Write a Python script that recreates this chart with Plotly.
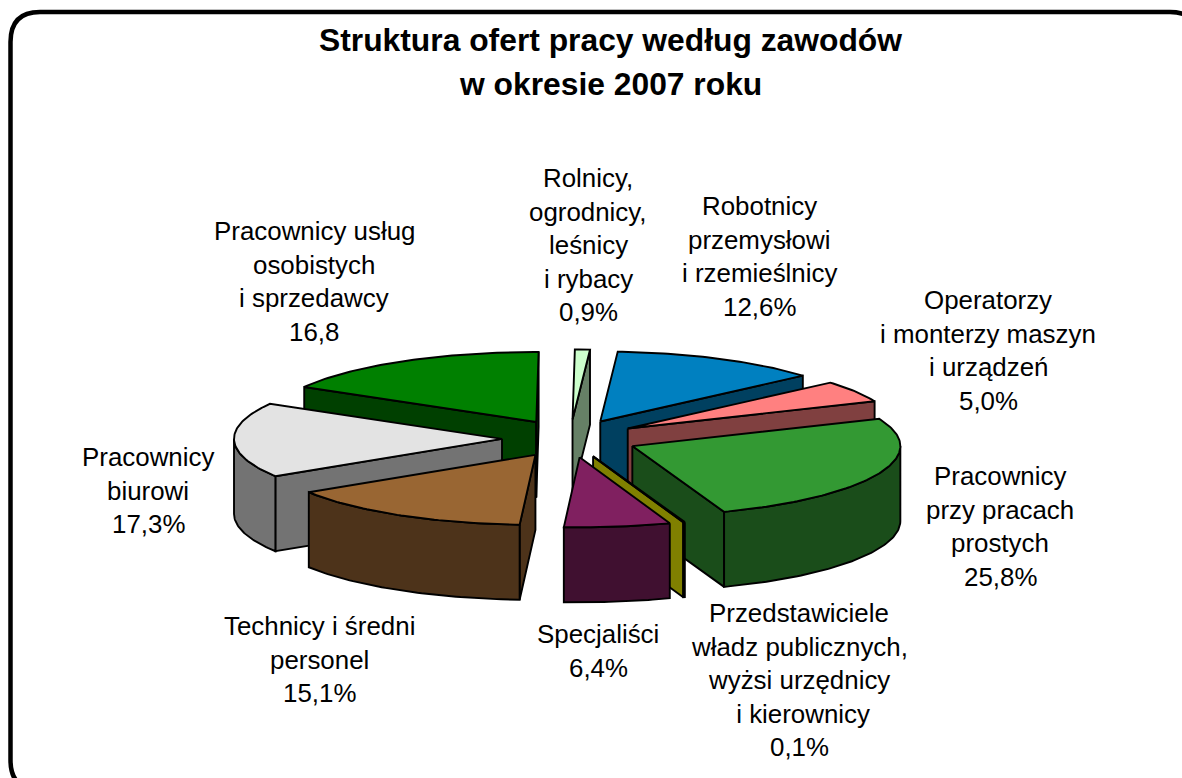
import numpy as np
import plotly.graph_objects as go

# ---- data (clockwise from the top of the pie) ----
categories = ["Rolnicy", "Robotnicy", "Operatorzy", "Proste", "Przedstawiciele",
              "Specjalisci", "Technicy", "Biurowi", "Uslugi"]
values = [0.9, 12.6, 5.0, 25.8, 0.1, 6.4, 15.1, 17.3, 16.8]
top_colors = ["#CCFFCC", "#0080C0", "#FF8080", "#339933", "#FFFF00",
              "#802060", "#996633", "#E3E3E3", "#008000"]
side_colors = ["#668066", "#004060", "#804040", "#1A4D1A", "#808000",
               "#401030", "#4D331A", "#737373", "#004000"]
paint_order = ["Uslugi", "Rolnicy", "Robotnicy", "Operatorzy", "Proste",
               "Biurowi", "Technicy", "Przedstawiciele", "Specjalisci"]

title_lines = ["Struktura ofert pracy według zawodów", "w okresie 2007 roku"]
label_lines = [
    ["Rolnicy,", "ogrodnicy,", "leśnicy", "i rybacy", "0,9%"],
    ["Robotnicy", "przemysłowi", "i rzemieślnicy", "12,6%"],
    ["Operatorzy", "i monterzy maszyn", "i urządzeń", "5,0%"],
    ["Pracownicy", "przy pracach", "prostych", "25,8%"],
    ["Przedstawiciele", "władz publicznych,", "wyżsi urzędnicy", " i kierownicy", "0,1%"],
    ["Specjaliści", "6,4%"],
    ["Technicy i średni", "personel", "15,1%"],
    ["Pracownicy", "biurowi", "17,3%"],
    ["Pracownicy usług", "osobistych", "i sprzedawcy", "16,8"],
]
label_x = [588, 759, 988, 1000, 799, 598, 319, 148, 314]
label_y = [178, 206, 300, 476, 613, 634, 626, 457, 231]

# ---- pie geometry ----
CX, CY = 570, 438.5
RX, RY = 268, 70
EX, EY = 68, 19
DEPTH = 75
START = 0.5
LW = 1.9
LINE_STEP = 33.6

fig = go.Figure()


def poly(xs, ys, color):
    fig.add_trace(go.Scatter(
        x=list(xs) + [xs[0]], y=list(ys) + [ys[0]], mode="lines", fill="toself",
        fillcolor=color, line=dict(color="black", width=LW), hoverinfo="skip",
        showlegend=False))


bounds = START + np.cumsum([0] + values) * 3.6
for name in paint_order:
    i = categories.index(name)
    a, b = bounds[i], bounds[i + 1]
    mid = np.radians((a + b) / 2)
    ax = CX + EX * np.sin(mid)
    ay = CY - EY * np.cos(mid)
    n = max(int(b - a) + 2, 2)
    th = np.radians(np.linspace(a, b, n))
    rim_x = ax + RX * np.sin(th)
    rim_y = ay - RY * np.cos(th)
    # radial faces turned to the viewer
    for edge, visible in ((a, np.sin(np.radians(a)) < 0), (b, np.sin(np.radians(b)) > 0)):
        if visible:
            ex = ax + RX * np.sin(np.radians(edge))
            ey = ay - RY * np.cos(np.radians(edge))
            poly([ax, ex, ex, ax], [ay, ey, ey + DEPTH, ay + DEPTH], side_colors[i])
    # outer wall on the front half
    lo, hi = max(a, 90), min(b, 270)
    if hi > lo:
        t = np.radians(np.linspace(lo, hi, max(int(hi - lo) + 2, 2)))
        wx = ax + RX * np.sin(t)
        wy = ay - RY * np.cos(t)
        poly(np.r_[wx, wx[::-1]], np.r_[wy, (wy + DEPTH)[::-1]], side_colors[i])
    # top surface
    poly(np.r_[ax, rim_x], np.r_[ay, rim_y], top_colors[i])

annotations = []
for lines, x, y in zip(label_lines, label_x, label_y):
    for k, line in enumerate(lines):
        annotations.append(dict(
            x=x, y=y + k * LINE_STEP, text=line, showarrow=False, xanchor="center",
            yanchor="middle", font=dict(family="Liberation Sans, Arial", size=25.9, color="black")))
for line, y in zip(title_lines, (40, 84)):
    annotations.append(dict(
        x=610, y=y, text="<b>%s</b>" % line, showarrow=False, xanchor="center",
        yanchor="middle", font=dict(family="Liberation Sans, Arial", size=31.8, color="black")))

frame = "M 10.5 42 Q 10.5 12 40 12 L 1170 12 Q 1200 12 1200 42 L 1200 760 Q 1200 790 1170 790 " \
        "L 40 790 Q 10.5 790 10.5 760 Z"

fig.update_layout(
    width=1182, height=778, margin=dict(l=0, r=0, t=0, b=0),
    paper_bgcolor="white", plot_bgcolor="white", showlegend=False,
    xaxis=dict(range=[0, 1182], visible=False, fixedrange=True),
    yaxis=dict(range=[778, 0], visible=False, fixedrange=True),
    shapes=[dict(type="path", path=frame, xref="x", yref="y",
                 line=dict(color="black", width=4.5), layer="below")],
    annotations=annotations,
)
fig.write_html("out.html", post_script="document.body.style.margin='0';", config={"displayModeBar": False})
